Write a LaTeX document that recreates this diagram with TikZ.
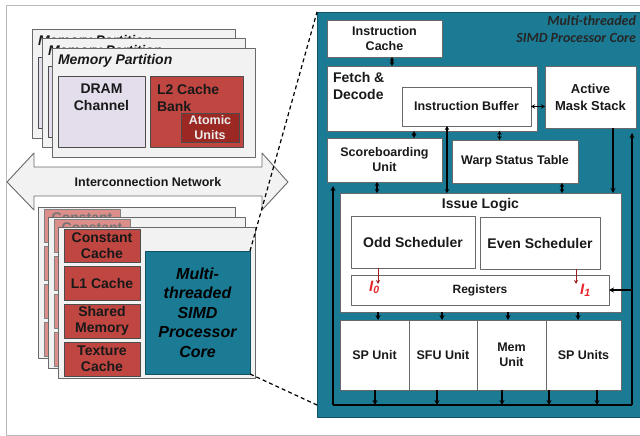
\documentclass[tikz,border=0pt]{standalone}
\usepackage{fontspec}
\setmainfont{Liberation Sans}
\newfontfamily\capfont{Carlito}
\usepackage{xcolor}
\usepackage{tikz}
\usetikzlibrary{positioning, calc, arrows.meta}
\definecolor{gpTeal}{RGB}{27, 122, 148}
\definecolor{gpTealDark}{RGB}{16, 82, 102}
\definecolor{gpRed}{RGB}{192, 70, 65}
\definecolor{gpRedDark}{RGB}{155, 40, 35}
\definecolor{gpPink}{RGB}{219, 142, 138}
\definecolor{gpLav}{RGB}{228, 222, 236}
\definecolor{gpPanel}{RGB}{242, 242, 242}
\definecolor{gpEdge}{RGB}{105, 105, 105}
\definecolor{gpText}{RGB}{25, 25, 25}
\definecolor{gpSig}{RGB}{232, 36, 42}
\definecolor{gpSigArrow}{RGB}{160, 30, 30}
\newcommand{\fsz}[2]{\fontsize{#1}{#2}\selectfont}
\tikzset{
    base/.style={
        font=\bfseries,
        text=gpText,
        align=center,
        inner sep=0pt,
        outer sep=0pt
    },
    sz/.style 2 args={
        minimum width=#1pt,
        minimum height=#2pt
    },
    panel/.style={
        base,
        rectangle,
        draw=gpEdge,
        fill=gpPanel,
        line width=0.9pt,
        anchor=north west
    },
    unitbox/.style={
        base,
        rectangle,
        draw=gpEdge,
        fill=white,
        line width=0.9pt,
        anchor=north west
    },
    cachebox/.style={
        base,
        rectangle,
        draw=black!70,
        fill=gpRed,
        line width=0.9pt,
        anchor=north west,
        font=\bfseries\fsz{14}{16}
    },
    corebox/.style={
        base,
        rectangle,
        draw=gpTealDark,
        fill=gpTeal,
        line width=0.9pt,
        anchor=north west
    },
    link/.style={
        arrows={Stealth[length=4pt,width=4.5pt]-Stealth[length=4pt,width=4.5pt]},
        line width=1.3pt
    },
    feed/.style={
        -{Stealth[length=5pt,width=5pt]},
        line width=1.3pt
    },
    bus/.style={
        line width=1.3pt
    },
    sigarrow/.style={
        -{Stealth[length=4pt,width=4pt]},
        line width=1pt,
        draw=gpSigArrow
    },
    siglabel/.style={
        inner sep=0pt,
        text=gpSig,
        font=\bfseries\itshape\fsz{15}{17}
    },
    zoomline/.style={
        dash pattern=on 4pt off 3pt,
        line width=1.2pt
    },
    netarrow/.style={
        draw=gpEdge,
        fill=gpPanel,
        line width=0.9pt
    }
}

\begin{document}
\begin{tikzpicture}[x=1pt, y=-1pt, line join=round]
    \useasboundingbox (0,0) rectangle (640,436);
    \clip (0,0) rectangle (640,436);
    \draw[gray!55, line width=1pt] (6,6) rectangle (700,435);

    % Interconnection network
    \draw[netarrow] (7,182) -- (34,153) -- (34,167) -- (262,167) -- (262,153) -- (288,182)
        -- (262,210) -- (262,196) -- (34,196) -- (34,210) -- cycle;
    \node[base, font=\bfseries\fsz{12.5}{14}] (icnt) at (148,182) {Interconnection Network};

    % Memory partitions: back copies, then the front one
    \foreach \i/\px/\py in {0/32/29, 1/42/38.5} {
        \begin{scope}[shift={(\px,\py)}]
            \node[panel, sz={203}{109}] (mp\i) at (0,0) {};
            \node[base, anchor=west, font=\bfseries\itshape\fsz{14}{16}] (mptxt\i) at (6,13) {Memory Partition};
            \node[unitbox, fill=gpLav, draw=black!70, sz={87}{71}] (dram\i) at (6,28) {};
            \node[unitbox, fill=gpRed, draw=black!70, sz={93}{71}] (ltwo\i) at (98,28) {};
        \end{scope}
    }
    \begin{scope}[shift={(52,48)}]
        \node[panel, sz={203}{109}] (mp2) at (0,0) {};
        \node[base, anchor=west, font=\bfseries\itshape\fsz{14}{16}] (mptxt2) at (6,13) {Memory Partition};
        \node[unitbox, fill=gpLav, draw=black!70, sz={87}{71}] (dram2) at (6,28) {};
        \node[base, font=\bfseries\fsz{14}{17}] (dramtxt) at (49.5,49.5) {DRAM\\Channel};
        \node[unitbox, fill=gpRed, draw=black!70, sz={93}{71}] (ltwo2) at (98,28) {};
        \node[base, anchor=west, align=left, font=\bfseries\fsz{14}{17}] (ltwotxt) at (105,49.5) {L2 Cache\\Bank};
        \node[unitbox, fill=gpRedDark, draw=black!70, text=white!92!black, sz={58}{29},
            font=\bfseries\fsz{12.5}{15}] (atom) at (129,65) {Atomic\\Units};
    \end{scope}

    % SIMD cores: back copies, then the front one
    \foreach \i/\px/\py in {0/38/207, 1/48/217} {
        \begin{scope}[shift={(\px,\py)}]
            \node[panel, sz={197}{151}] (sm\i) at (0,0) {};
            \node[cachebox, fill=gpPink, draw=black!50, sz={76}{33}] (cc\i) at (6,2) {};
            \node[base, text=black!55, font=\bfseries\fsz{14}{16}] (cctxt\i) at (44,10.5) {Constant};
            \node[cachebox, fill=gpPink, draw=black!50, sz={76}{34}] (lone\i) at (6,39) {};
            \node[cachebox, fill=gpPink, draw=black!50, sz={76}{34}] (shm\i) at (6,77) {};
            \node[cachebox, fill=gpPink, draw=black!50, sz={76}{34}] (tex\i) at (6,115) {};
        \end{scope}
    }
    \begin{scope}[shift={(58,227)}]
        \node[panel, sz={197}{151}] (sm2) at (0,0) {};
        \node[cachebox, sz={76}{33}] (cc2) at (6,2) {Constant\\Cache};
        \node[cachebox, sz={76}{34}] (lone2) at (6,39) {L1 Cache};
        \node[cachebox, sz={76}{34}] (shm2) at (6,77) {Shared\\Memory};
        \node[cachebox, sz={76}{34}] (tex2) at (6,115) {Texture\\Cache};
        \node[corebox, text=black, sz={105}{123}, font=\bfseries\itshape\fsz{16}{19.5}] (smc) at (87,24)
            {Multi-\\threaded\\SIMD\\Processor\\Core};
    \end{scope}

    % Zoomed core
    \node[corebox, sz={400}{405}] (core) at (317,12) {};
    \coordinate (zlow) at (317,405);
    \draw[zoomline] (smc.north east) -- (core.north west);
    \draw[zoomline] (smc.south east) -- (zlow);
    \node[base, anchor=north east, align=right, text=black!85, font=\capfont\bfseries\itshape\fsz{14}{17}]
        (captxt) at (636,16) {Multi-threaded\\SIMD Processor Core};

    \node[unitbox, sz={115}{37}, font=\bfseries\fsz{12.5}{15}] (icache) at (327,20) {Instruction\\Cache};
    \node[unitbox, sz={210}{65}] (fetch) at (327,66) {};
    \node[base, anchor=north west, align=left, font=\bfseries\fsz{14}{17}] (fetchtxt) at (333,72) {Fetch \&\\Decode};
    \node[unitbox, sz={129}{39}, font=\bfseries\fsz{12.5}{15}] (ibuf) at (402,87) {Instruction Buffer};
    \node[unitbox, sz={91}{62}, font=\bfseries\fsz{13}{17}] (ams) at (545,66) {Active\\Mask Stack};
    \node[unitbox, sz={115}{44}, font=\bfseries\fsz{12.5}{15}] (score) at (327,138) {Scoreboarding\\Unit};
    \node[unitbox, sz={126}{43}, font=\bfseries\fsz{12.5}{15}] (warp) at (452,140) {Warp Status Table};
    \node[unitbox, sz={281}{119}] (issue) at (340,193) {};
    \node[base, font=\bfseries\fsz{14}{16}] (issuetxt) at (480.5,205) {Issue Logic};
    \node[unitbox, sz={124}{52}, font=\bfseries\fsz{14}{16}] (odd) at (351,216) {Odd Scheduler};
    \node[unitbox, sz={120}{52}, font=\bfseries\fsz{14}{16}] (even) at (480,217) {Even Scheduler};
    \node[unitbox, sz={258}{30}, font=\bfseries\fsz{12}{14}] (regs) at (351,275) {Registers};
    \node[unitbox, sz={69}{70}, font=\bfseries\fsz{12.5}{15}] (spa) at (340,320) {SP Unit};
    \node[unitbox, sz={68}{70}, font=\bfseries\fsz{12.5}{15}] (sfu) at (409,320) {SFU Unit};
    \node[unitbox, sz={69}{70}, font=\bfseries\fsz{12.5}{15}] (mem) at (477,320) {Mem\\Unit};
    \node[unitbox, sz={75}{70}, font=\bfseries\fsz{12.5}{15}] (spb) at (546,320) {SP Units};

    % issue signals
    \draw[sigarrow] ([xshift=-35]odd.south) -- ([xshift=-35, yshift=-9]odd.south |- regs.north);
    \draw[sigarrow] ([xshift=36]even.south) -- ([xshift=36, yshift=-9]even.south |- regs.north);
    \node[siglabel, anchor=base west] (izero) at (369,291) {I\textsubscript{0}};
    \node[siglabel, anchor=base west] (ione) at (580,294) {I\textsubscript{1}};

    % links
    \draw[link] ([xshift=7.5]icache.south) -- ([xshift=7.5]icache.south |- fetch.north);
    \draw[link] (ibuf.east) -- (ibuf.east -| ams.west);
    \draw[link] ([xshift=29.5]score.north) -- ([xshift=29.5]score.north |- fetch.south);
    \draw[link] ([xshift=-15.5]warp.north) -- ([xshift=-15.5]warp.north |- fetch.south);
    \draw[link] ([xshift=-19.5]ibuf.south) -- ([xshift=-19.5]ibuf.south |- issue.north);
    \draw[link] ([xshift=-7.5]score.south) -- ([xshift=-7.5]score.south |- issue.north);
    \draw[link] ([xshift=47]warp.south) -- ([xshift=47]warp.south |- issue.north);
    \draw[feed] ([xshift=22.5]ams.south) -- ([xshift=22.5]ams.south |- issue.north);

    % result bus
    \coordinate (busl) at (333,405);
    \coordinate (busr) at (632,405);
    \draw[bus] (busl) -- (busr);
    \draw[feed, shorten >=4pt] (busl) -- (busl |- score.south);
    \draw[feed, shorten >=5pt] (busr) -- (busr |- ams.south);
    \draw[feed] (busr |- regs.east) -- (regs.east);
    \foreach \u/\s in {spa/3.5, sfu/-1, mem/-3.5, spb/-5.5}
        \draw[feed] ([xshift=\s]\u.north |- issue.south) -- ([xshift=\s]\u.north);
    \foreach \u/\s in {spa/0.5, sfu/-6, mem/-9.5, spb/-34.5, spb/13.5}
        \draw[feed] ([xshift=\s]\u.south) -- ([xshift=\s]\u.south |- busl);
\end{tikzpicture}
\end{document}
